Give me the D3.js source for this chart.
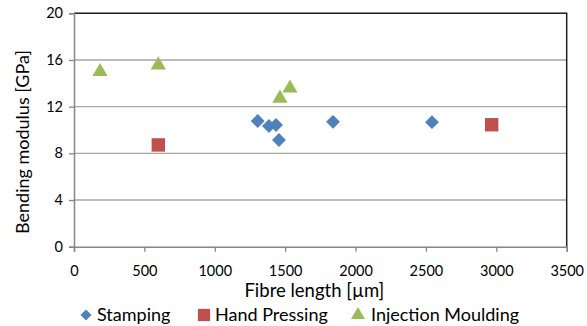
<!DOCTYPE html>
<html lang="en">
<head>
    <meta charset="UTF-8">
    <title>Bending modulus vs fibre length</title>
    <script src="https://d3js.org/d3.v7.min.js"></script>
    <style>
        body { margin: 0; background: #fff; }
        text { font-family: Lato, "Open Sans", sans-serif; fill: #000; }
    </style>
</head>
<body>
    <script>
        // data
        const stampingLength = [1305, 1385, 1435, 1456, 1840, 2543];
        const stampingModulus = [10.77, 10.34, 10.43, 9.14, 10.70, 10.67];
        const handLength = [599, 2967];
        const handModulus = [8.72, 10.45];
        const injectionLength = [185, 599, 1463, 1534];
        const injectionModulus = [15.0, 15.57, 12.72, 13.58];

        const xTicks = [0, 500, 1000, 1500, 2000, 2500, 3000, 3500];
        const yTicks = [0, 4, 8, 12, 16, 20];

        // diamond = square turned 45 degrees
        const series = [
            { name: "Stamping", xs: stampingLength, ys: stampingModulus, color: "#4F81BD", shape: d3.symbolSquare, turn: 45, size: 96, legendSize: 62 },
            { name: "Hand Pressing", xs: handLength, ys: handModulus, color: "#C0504D", shape: d3.symbolSquare, turn: 0, size: 180, legendSize: 150 },
            { name: "Injection Moulding", xs: injectionLength, ys: injectionModulus, color: "#9BBB59", shape: d3.symbolTriangle, turn: 0, size: 100, legendSize: 85 }
        ];

        const width = 587, height = 326;
        const plotLeft = 74, plotRight = 566.7, plotTop = 13.3, plotBottom = 246.7;

        const svg = d3.select("body").append("svg")
            .attr("width", width)
            .attr("height", height);

        const x = d3.scaleLinear().domain([0, 3500]).range([plotLeft, plotRight]);
        const y = d3.scaleLinear().domain([0, 20]).range([plotBottom, plotTop]);

        // gridlines
        svg.append("g")
            .selectAll("line")
            .data(yTicks.slice(1))
            .join("line")
            .attr("x1", plotLeft).attr("x2", plotRight)
            .attr("y1", d => y(d)).attr("y2", d => y(d))
            .attr("stroke", "#A6A6A6")
            .attr("stroke-width", 1.3);

        // border top + right
        svg.append("path")
            .attr("d", `M${plotLeft},${plotTop}H${plotRight}V${plotBottom}`)
            .attr("fill", "none")
            .attr("stroke", "#222")
            .attr("stroke-width", 1.5);

        // axes
        const xAxis = svg.append("g")
            .attr("transform", `translate(0,${plotBottom})`)
            .call(d3.axisBottom(x).tickValues(xTicks).tickFormat(d3.format("d")).tickSize(5).tickPadding(14));
        const yAxis = svg.append("g")
            .attr("transform", `translate(${plotLeft},0)`)
            .call(d3.axisLeft(y).tickValues(yTicks).tickFormat(d3.format("d")).tickSize(5).tickPadding(6));

        [xAxis, yAxis].forEach(a => {
            a.select(".domain").attr("stroke", "#868686").attr("stroke-width", 1.5);
            a.selectAll(".tick line").attr("stroke", "#868686").attr("stroke-width", 1.3);
            a.selectAll("text").attr("font-size", 14.5).attr("font-family", "Lato, sans-serif").attr("fill", "#000");
        });

        // axis titles
        svg.append("text")
            .attr("x", (plotLeft + plotRight) / 2 - 6)
            .attr("y", 297)
            .attr("text-anchor", "middle")
            .attr("font-size", 18.5)
            .text("Fibre length [µm]");

        svg.append("text")
            .attr("transform", `translate(29,142) rotate(-90)`)
            .attr("text-anchor", "middle")
            .attr("font-size", 18)
            .text("Bending modulus  [GPa]");

        // points
        series.forEach(s => {
            svg.append("g")
                .selectAll("path")
                .data(s.xs.map((v, i) => [v, s.ys[i]]))
                .join("path")
                .attr("transform", d => `translate(${x(d[0])},${y(d[1])}) rotate(${s.turn})`)
                .attr("d", d3.symbol().type(s.shape).size(s.size))
                .attr("fill", s.color);
        });

        // legend
        const legendX = [86, 204, 358];
        const legendTextX = [11, 11, 13];
        const legend = svg.append("g")
            .selectAll("g")
            .data(series)
            .join("g")
            .attr("transform", (d, i) => `translate(${legendX[i]},315)`);
        legend.append("path")
            .attr("transform", d => `rotate(${d.turn})`)
            .attr("d", d => d3.symbol().type(d.shape).size(d.legendSize)())
            .attr("fill", d => d.color);
        legend.append("text")
            .attr("x", (d, i) => legendTextX[i])
            .attr("dy", "0.35em")
            .attr("font-size", 18)
            .text(d => d.name);
    </script>
</body>
</html>
